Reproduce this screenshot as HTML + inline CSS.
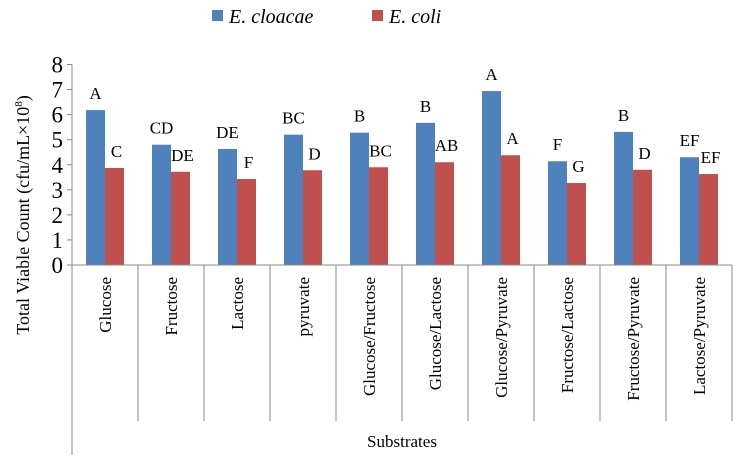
<!DOCTYPE html>
<html><head><meta charset="utf-8"><style>
body{margin:0;background:#fff;}
svg text{font-family:"Liberation Serif","DejaVu Serif",serif !important;}
</style></head><body>
<svg id="chart" width="744" height="461">
<g>
  <rect x="212" y="10" width="11" height="11" fill="#4F81BD"/>
  <text x="229" y="23" font-size="20" font-style="italic">E. cloacae</text>
  <rect x="372" y="10" width="11" height="11" fill="#C0504D"/>
  <text x="389" y="23" font-size="20" font-style="italic">E. coli</text>
</g>
<text transform="translate(29,215) rotate(-90)" text-anchor="middle" font-size="18">Total Viable Count (cfu/mL×10<tspan font-size="11" dy="-7">8</tspan><tspan dy="7">)</tspan></text>
<text x="402" y="447" text-anchor="middle" font-size="17">Substrates</text>
<g id="plot"></g>
</svg>
<script>
const categories=["Glucose","Fructose","Lactose","pyruvate","Glucose/Fructose","Glucose/Lactose","Glucose/Pyruvate","Fructose/Lactose","Fructose/Pyruvate","Lactose/Pyruvate"];
const cloacae=[6.18,4.8,4.63,5.2,5.28,5.67,6.94,4.14,5.31,4.3];
const coli=[3.87,3.72,3.43,3.78,3.9,4.1,4.38,3.27,3.8,3.63];
const cloacaeLetters=["A","CD","DE","BC","B","B","A","F","B","EF"];
const coliLetters=["C","DE","F","D","BC","AB","A","G","D","EF"];
const yTicks=[0,1,2,3,4,5,6,7,8];

const NS="http://www.w3.org/2000/svg";
const g=document.getElementById('plot');
const x0=72,x1=732,y0=265,yTop=64.5,yMax=8;
const cw=(x1-x0)/categories.length;
function ys(v){return y0-(v/yMax)*(y0-yTop);}
function xs(i){return x0+i*cw;}
function mk(tag,attrs){const e=document.createElementNS(NS,tag);for(const k in attrs)e.setAttribute(k,attrs[k]);if(tag==='text')e.setAttribute('font-family','Liberation Serif, serif');g.appendChild(e);return e;}

yTicks.forEach(t=>{
  const l=mk('line',{x1:x0-5,x2:x0,y1:ys(t),y2:ys(t),stroke:'#888'});
  
  
  const tx=mk('text',{x:x0-9,y:ys(t)+8,'text-anchor':'end','font-size':'23'});
  tx.textContent=t;
  
  
});
categories.forEach((c,i)=>{
  const bx=xs(i)+14,bw=19;
  const b1=mk('rect',{x:bx,y:ys(cloacae[i]),width:bw,height:y0-ys(cloacae[i]),fill:'#4F81BD'});
  
  
  const b2=mk('rect',{x:bx+bw,y:ys(coli[i]),width:bw,height:y0-ys(coli[i]),fill:'#C0504D'});
  
  
  const t1=mk('text',{x:bx+bw/2,y:ys(cloacae[i])-11,'text-anchor':'middle','font-size':'17'});
  t1.textContent=cloacaeLetters[i];
  
  
  const t2=mk('text',{x:bx+bw*1.5+2,y:ys(coli[i])-11,'text-anchor':'middle','font-size':'17'});
  t2.textContent=coliLetters[i];
  
  
  const cl=mk('text',{transform:`translate(${xs(i)+cw/2+6},277) rotate(-90)`,'text-anchor':'end','font-size':'17'});
  cl.textContent=c;
  
  
  if(i>0){
    const d=mk('line',{x1:xs(i),x2:xs(i),y1:y0,y2:421,stroke:'#888'});
    
    
  }
});
const dl=mk('line',{x1:x1,x2:x1,y1:y0,y2:421,stroke:'#888'});


const ya=mk('line',{x1:x0,x2:x0,y1:yTop,y2:455,stroke:'#888'});


const xa=mk('line',{x1:x0,x2:x1,y1:y0,y2:y0,stroke:'#888'});


</script>
</body></html>
